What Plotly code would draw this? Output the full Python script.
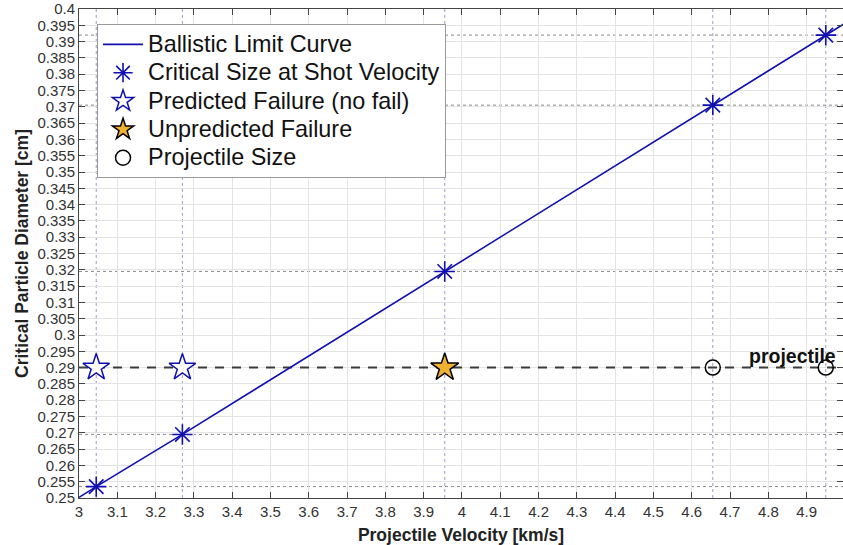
import plotly.graph_objects as go

# ---- data ----
shot_velocity = [3.045, 3.27, 3.955, 4.655, 4.95]          # km/s
critical_size = [0.2535, 0.2695, 0.3195, 0.3705, 0.392]    # cm
curve_velocity = [3.0, 3.045, 3.27, 3.955, 4.655, 4.95, 5.0]
curve_size = [0.2502, 0.2535, 0.2695, 0.3195, 0.3705, 0.392, 0.3956]
projectile_size = 0.29
pred_fail_v = [3.045, 3.27]
unpred_fail_v = [3.955]
proj_v = [4.655, 4.95]
x_ticks = [round(3 + 0.1 * i, 1) for i in range(21)]
y_ticks = [round(0.25 + 0.005 * i, 3) for i in range(31)]

FONT = "Arial, Liberation Sans, sans-serif"
BLUE = "#1010b0"


def lg(name):
    return f'<span style="font-size:23.4px">{name}</span>'


fig = go.Figure()

# reference dotted lines
shapes = []
for v in shot_velocity:
    shapes.append(dict(type="line", xref="x", yref="paper", x0=v, x1=v, y0=0, y1=1,
                       line=dict(color="#9a9ad0", width=1, dash="dot"), layer="below"))
for s in critical_size:
    shapes.append(dict(type="line", xref="paper", yref="y", x0=0, x1=1, y0=s, y1=s,
                       line=dict(color="#8a8a8a", width=1, dash="dot"), layer="below"))

# projectile dashed line
fig.add_trace(go.Scatter(x=[3.0, 5.0], y=[projectile_size, projectile_size], mode="lines",
                         line=dict(color="#3a3a3a", width=2, dash="9px,8px"),
                         showlegend=False, hoverinfo="skip"))

fig.add_trace(go.Scatter(x=curve_velocity, y=curve_size, mode="lines",
                         line=dict(color=BLUE, width=1.6), name=lg("Ballistic Limit Curve")))
fig.add_trace(go.Scatter(x=shot_velocity, y=critical_size, mode="markers",
                         marker=dict(symbol="asterisk-open", size=17, color=BLUE,
                                     line=dict(color=BLUE, width=1.6)),
                         name=lg("Critical Size at Shot Velocity")))
fig.add_trace(go.Scatter(x=pred_fail_v, y=[projectile_size] * len(pred_fail_v), mode="markers",
                         marker=dict(symbol="star", size=20, color="white",
                                     line=dict(color=BLUE, width=1.5)),
                         name=lg("Predicted Failure (no fail)")))
fig.add_trace(go.Scatter(x=unpred_fail_v, y=[projectile_size] * len(unpred_fail_v), mode="markers",
                         marker=dict(symbol="star", size=21, color="#f0b030",
                                     line=dict(color="black", width=1.5)),
                         name=lg("Unpredicted Failure")))
fig.add_trace(go.Scatter(x=proj_v, y=[projectile_size] * len(proj_v), mode="markers",
                         marker=dict(symbol="circle-open", size=15, color="black",
                                     line=dict(color="black", width=1.5)),
                         name=lg("Projectile Size")))

fig.add_annotation(x=4.95, y=projectile_size, xref="x", yref="y", text="<b>projectile</b>",
                   showarrow=False, xanchor="right", yanchor="bottom", xshift=12, yshift=-1,
                   font=dict(family=FONT, size=19.5, color="#111111"))

fig.update_layout(
    width=843, height=545,
    margin=dict(l=79, r=0, t=9, b=47),
    paper_bgcolor="white", plot_bgcolor="white",
    font=dict(family=FONT, color="#333333"),
    shapes=shapes,
    legend=dict(x=0.0236, y=0.969, xanchor="left", yanchor="top",
                bgcolor="white", bordercolor="#999999", borderwidth=1,
                font=dict(family=FONT, size=19.5, color="#111111"),
                tracegroupgap=0, itemwidth=40),
    showlegend=True,
)
fig.update_xaxes(range=[3, 4.995], tickvals=x_ticks, ticktext=[f"{t:g}" for t in x_ticks],
                 showgrid=True, gridcolor="#e3e3e3", gridwidth=1,
                 ticks="inside", ticklen=6, tickcolor="#444444",
                 showline=True, linecolor="#444444", linewidth=1, mirror="ticks",
                 tickfont=dict(family=FONT, size=15, color="#333333"),
                 title=dict(text="<b>Projectile Velocity [km/s]</b>", standoff=10,
                            font=dict(family=FONT, size=17.5, color="#222222")),
                 zeroline=False)
fig.update_yaxes(range=[0.25, 0.4], tickvals=y_ticks, ticktext=[f"{t:g}" for t in y_ticks],
                 showgrid=True, gridcolor="#e3e3e3", gridwidth=1,
                 ticks="inside", ticklen=6, tickcolor="#444444",
                 showline=True, linecolor="#444444", linewidth=1, mirror="ticks",
                 tickfont=dict(family=FONT, size=15, color="#333333"),
                 title=dict(text="<b>Critical Particle Diameter [cm]</b>", standoff=4,
                            font=dict(family=FONT, size=17.5, color="#222222")),
                 zeroline=False)

fig.write_html("out.html")
